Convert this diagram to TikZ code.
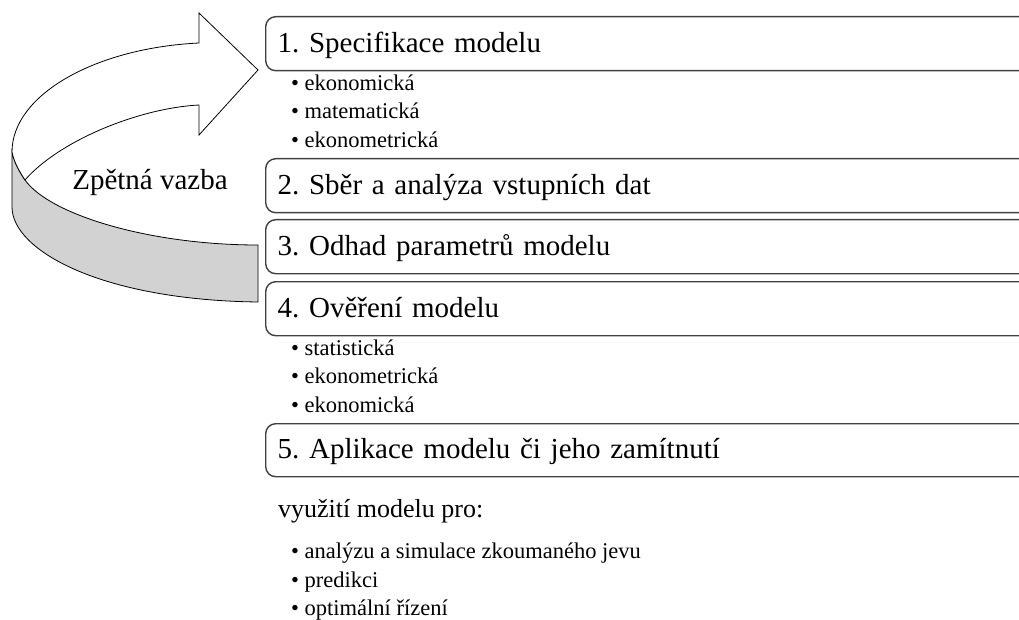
\documentclass[tikz,border=0pt]{standalone}
\usepackage{fontspec}
\setmainfont{Liberation Serif}
\frenchspacing
\definecolor{boxline}{RGB}{64,64,64}
\definecolor{bandgray}{RGB}{210,210,210}
\begin{document}
\begin{tikzpicture}[x=1pt,y=-1pt,
  stepbox/.style={draw=boxline, line width=1.4pt, rounded corners=10pt, fill=white,
    anchor=north west, minimum width=800pt, minimum height=54pt, text width=776pt,
    align=left, inner xsep=12pt, inner ysep=0pt, text height=21pt, text depth=4pt,
    font=\fontsize{29}{34}\selectfont},
  itemtext/.style={anchor=base west, inner sep=0pt, font=\fontsize{22.5}{27}\selectfont},
  plaintext/.style={anchor=base west, inner sep=0pt, font=\fontsize{26}{31}\selectfont},
  arrowline/.style={draw=black, line width=0.8pt, line join=miter}
]
\useasboundingbox (0,0) rectangle (1019,620);
\clip (0,0) rectangle (1019,620);

% feedback arrow: lower (grey) face
\path[arrowline, fill=bandgray]
  (12,152) -- (12,207) .. controls (12,250) and (100,300) .. (258,302)
  -- (258,245) .. controls (150,245) and (50,215) .. (25,180)
  .. controls (19,171) and (14,162) .. cycle;
% upper (white) face with arrow head
\path[arrowline, fill=white]
  (12,152) .. controls (12,95) and (95,48) .. (199,43)
  -- (199,13) -- (258,70) -- (199,135) -- (199,105)
  .. controls (140,108) and (60,140) .. (25,180)
  .. controls (19,171) and (14,162) .. cycle;
\node[anchor=base, inner sep=0pt, font=\fontsize{29}{34}\selectfont] (fb) at (150,190) {Zpětná vazba};

% steps
\node[stepbox] (s1) at (265,16) {1. Specifikace modelu};
\node[stepbox] (s2) at (265,158) {2. Sběr a analýza vstupních dat};
\node[stepbox] (s3) at (265,219) {3. Odhad parametrů modelu};
\node[stepbox] (s4) at (265,281) {4. Ověření modelu};
\node[stepbox, minimum height=53pt] (s5) at (265,423) {5. Aplikace modelu či jeho zamítnutí};

% lists
\node[itemtext] (a1) at (291,90.7) {• ekonomická};
\node[itemtext] (a2) at (291,119) {• matematická};
\node[itemtext] (a3) at (291,147.5) {• ekonometrická};

\node[itemtext] (b1) at (291,355) {• statistická};
\node[itemtext] (b2) at (291,383.5) {• ekonometrická};
\node[itemtext] (b3) at (291,412) {• ekonomická};

\node[plaintext] (use) at (278,517) {využití modelu pro:};
\node[itemtext] (c1) at (291,558) {• analýzu a simulace zkoumaného jevu};
\node[itemtext] (c2) at (291,587) {• predikci};
\node[itemtext] (c3) at (291,615.5) {• optimální řízení};
\end{tikzpicture}
\end{document}
